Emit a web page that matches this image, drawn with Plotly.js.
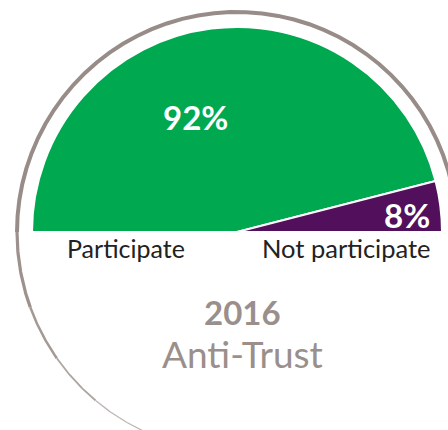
<!DOCTYPE html>
<html><head><meta charset="utf-8">
<script src="https://cdn.plot.ly/plotly-3.0.1.min.js"></script>
<style>html,body{margin:0;padding:0;overflow:hidden;background:#fff;width:448px;height:430px}#chart{width:448px;height:500px}</style>
</head><body><div id="chart"></div>
<script>
var categories = ["Participate", "Not participate"];
var values = [92, 8];
var colors = ["#00A84F", "#520F5B"];
var year = "2016";
var topic = "Anti-Trust";

var W = 448, H = 500;
var cx = 237, cy = 232, R = 205, RING = 220;
var FONT = "Lato, 'Open Sans', sans-serif";

var total = values.reduce(function(a,b){return a+b;},0);
var pie = {
  type: "pie",
  values: values.concat([total]),
  labels: categories.concat(["_hidden"]),
  marker: {colors: colors.concat(["rgba(0,0,0,0)"]), line: {color: "#ffffff", width: [2,2,0]}},
  sort: false,
  direction: "clockwise",
  rotation: -90,
  textinfo: "none",
  hoverinfo: "skip",
  showlegend: false,
  domain: {x: [(cx-R)/W, (cx+R)/W], y: [(H-cy-R)/H, (H-cy+R)/H]}
};

// decorative outer ring, drawn as segments with tapering width
var traces = [pie];
function arc(a0, a1, w, col){
  var xs=[], ys=[];
  for (var k=0;k<=40;k++){
    var a=(a0+(a1-a0)*k/40)*Math.PI/180;
    xs.push(cx+RING*Math.cos(a)); ys.push(cy-RING*Math.sin(a));
  }
  traces.push({type:"scatter",mode:"lines",x:xs,y:ys,line:{color:col,width:w},hoverinfo:"skip",showlegend:false,xaxis:"x",yaxis:"y"});
}
arc(12, 180, 4, "#978C88");
arc(180, 200, 3.2, "#9C918D");
arc(200, 215, 2.5, "#A39995");
arc(215, 230, 1.8, "#ADA5A2");
arc(230, 245, 1.3, "#BDB7B4");
arc(245, 262, 1, "#D8D4D2");

var ann = [];
var pcts = values.map(function(v){return v + "%";});
ann.push({x:195, y:117, text:"<b>"+pcts[0]+"</b>", font:{family:FONT,size:33,color:"#fff"}});
ann.push({x:407, y:215, text:"<b>"+pcts[1]+"</b>", font:{family:FONT,size:33,color:"#fff"}});
ann.push({x:126, y:248, text:categories[0], font:{family:FONT,size:25,color:"#222"}});
ann.push({x:346, y:248, text:categories[1], font:{family:FONT,size:25.5,color:"#222"}});
ann.push({x:242, y:312, text:"<b>"+year+"</b>", font:{family:FONT,size:33,color:"#9A8F8B"}});
ann.push({x:242, y:353, text:topic, font:{family:FONT,size:37,color:"#9A8F8B"}});
ann = ann.map(function(a){a.xref="x";a.yref="y";a.showarrow=false;a.xanchor="center";a.yanchor="middle";return a;});

var layout = {
  width: W, height: H,
  margin: {l:0,r:0,t:0,b:0},
  paper_bgcolor: "#fff", plot_bgcolor: "rgba(0,0,0,0)",
  xaxis: {range:[0,W], visible:false, fixedrange:true},
  yaxis: {range:[H,0], visible:false, fixedrange:true},
  annotations: ann,
  showlegend: false
};
Plotly.newPlot("chart", traces, layout, {displayModeBar:false, staticPlot:true});
</script></body></html>
